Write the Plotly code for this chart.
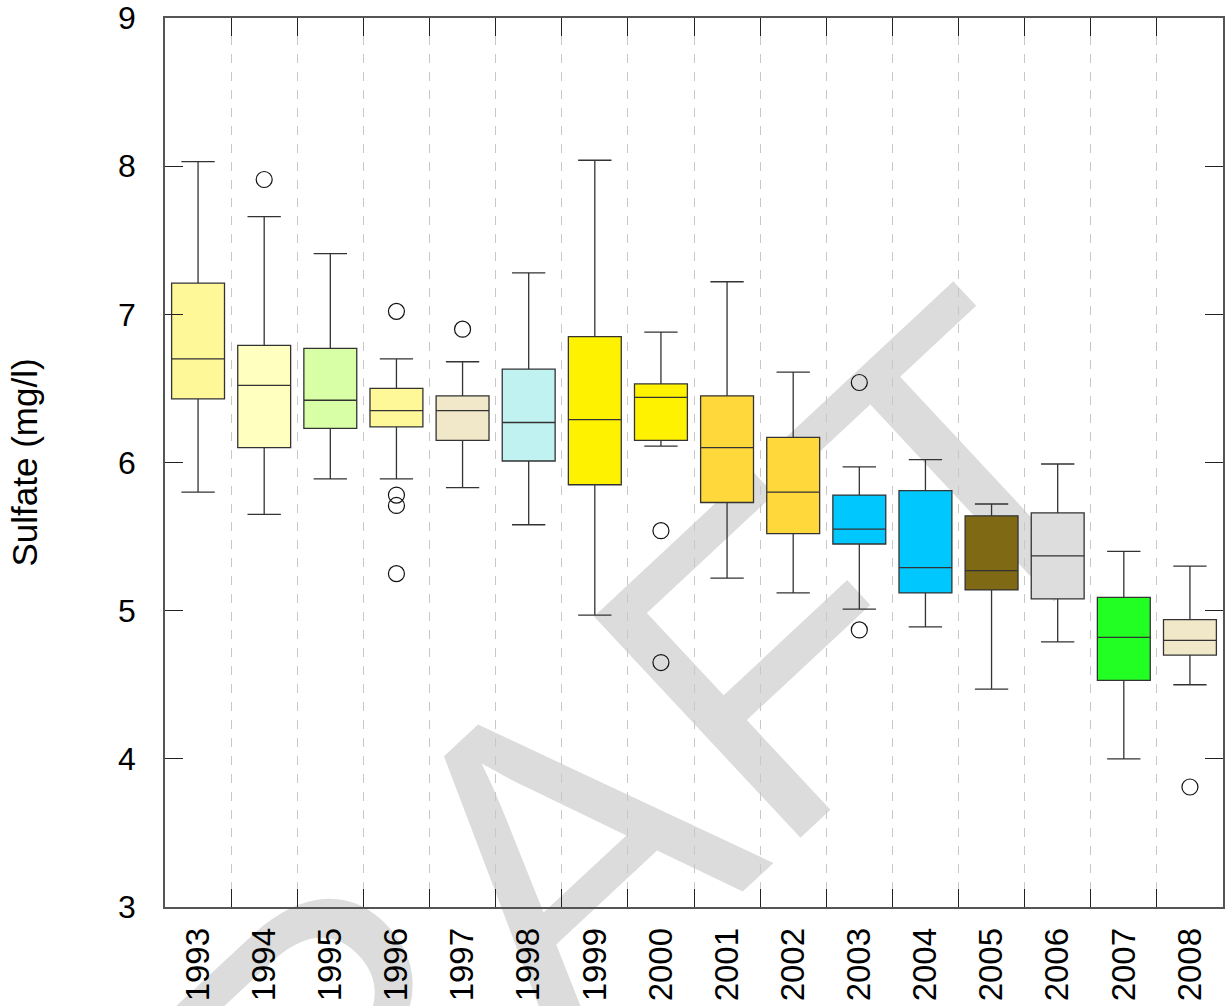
import plotly.graph_objects as go

years = [str(y) for y in range(1993, 2009)]
upper = [8.03, 7.66, 7.41, 6.70, 6.68, 7.28, 8.04, 6.88, 7.22, 6.61, 5.97, 6.02, 5.72, 5.99, 5.40, 5.30]
q3 = [7.21, 6.79, 6.77, 6.50, 6.45, 6.63, 6.85, 6.53, 6.45, 6.17, 5.78, 5.81, 5.64, 5.66, 5.09, 4.94]
median = [6.70, 6.52, 6.42, 6.35, 6.35, 6.27, 6.29, 6.44, 6.10, 5.80, 5.55, 5.29, 5.27, 5.37, 4.82, 4.80]
q1 = [6.43, 6.10, 6.23, 6.24, 6.15, 6.01, 5.85, 6.15, 5.73, 5.52, 5.45, 5.12, 5.14, 5.08, 4.53, 4.70]
lower = [5.80, 5.65, 5.89, 5.89, 5.83, 5.58, 4.97, 6.11, 5.22, 5.12, 5.01, 4.89, 4.47, 4.79, 4.00, 4.50]
colors = ["#fff899", "#ffffc0", "#d9ffa6", "#fff899", "#f0e8c8", "#c0f2f2", "#fff200", "#fff200",
          "#ffd83c", "#ffd83c", "#00c8ff", "#00c8ff", "#7f6914", "#dcdddc", "#22ff22", "#f0e8c8"]
outlier_years = ["1994", "1996", "1996", "1996", "1996", "1997", "2000", "2000", "2003", "2003", "2008"]
outlier_values = [7.91, 7.02, 5.78, 5.71, 5.25, 6.90, 5.54, 4.65, 6.54, 4.87, 3.81]

FONT = "Liberation Sans, Arial, sans-serif"

fig = go.Figure()
for i, yr in enumerate(years):
    fig.add_trace(go.Box(
        x=[yr], q1=[q1[i]], median=[median[i]], q3=[q3[i]],
        lowerfence=[lower[i]], upperfence=[upper[i]],
        fillcolor=colors[i], line=dict(color="#333333", width=1.3),
        width=0.8, whiskerwidth=0.63, boxpoints=False,
        showlegend=False, hoverinfo="skip",
    ))

fig.add_trace(go.Scatter(
    x=outlier_years, y=outlier_values, mode="markers",
    marker=dict(symbol="circle-open", size=16, color="#111111", line=dict(width=1.2)),
    showlegend=False, hoverinfo="skip",
))

# watermark drawn below the data as a shape label
wx, wy = 0.315, 0.060
fig.add_shape(
    type="rect", xref="paper", yref="paper",
    x0=wx - 0.01, x1=wx + 0.01, y0=wy - 0.01, y1=wy + 0.01,
    line=dict(width=0), fillcolor="rgba(0,0,0,0)", layer="below",
    label=dict(
        text="DRAFT", textangle=-43, textposition="middle center",
        font=dict(family="Liberation Sans, Arial", size=440, color="#dcdcdc"),
    ),
)

fig.update_layout(
    width=1225, height=1006,
    margin=dict(l=165, r=0, t=18, b=99),
    plot_bgcolor="white", paper_bgcolor="white",
    boxmode="overlay",
    font=dict(family=FONT, color="#000000"),
)

fig.update_xaxes(
    type="category", categoryorder="array", categoryarray=years,
    range=[-0.5, 15.5], tickson="boundaries",
    showgrid=True, gridcolor="#c8c8c8", griddash="dash", gridwidth=1,
    ticks="inside", ticklen=18, tickcolor="#222222", tickwidth=1,
    showline=True, linecolor="#555555", linewidth=1.5, mirror="ticks",
    tickangle=-90, tickfont=dict(size=33, family=FONT, color="#000000"),
    ticklabelstandoff=6,
)

fig.update_yaxes(
    range=[3, 9], dtick=1, tick0=3,
    ticks="inside", ticklen=18, tickcolor="#222222", tickwidth=1,
    showline=True, linecolor="#555555", linewidth=1.5, mirror="ticks",
    showgrid=False, zeroline=False, ticklabeloverflow="allow",
    tickfont=dict(size=32, family=FONT, color="#000000"),
    ticklabelstandoff=21,
    title=dict(text="Sulfate (mg/l)", font=dict(size=35, family=FONT, color="#000000"), standoff=70),
)

fig.write_html("out.html")
